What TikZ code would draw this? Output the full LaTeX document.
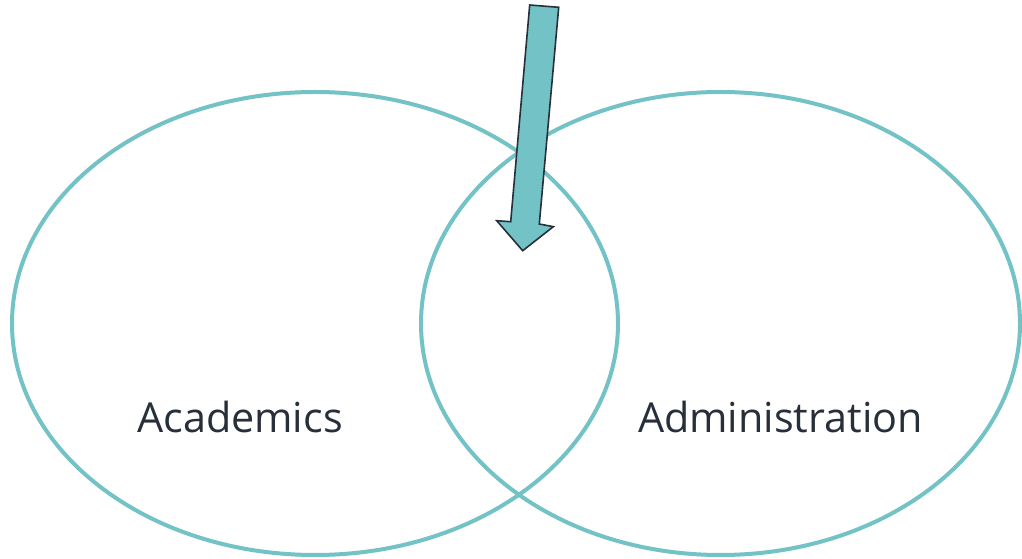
\documentclass[tikz,border=0pt]{standalone}
\usepackage{fontspec}
\setmainfont[Ligatures=NoCommon]{Open Sans}
\definecolor{teal1}{HTML}{72C2C6}
\definecolor{ink}{HTML}{262F3A}
\begin{document}
\begin{tikzpicture}[x=0.75pt,y=-0.75pt,
  ring/.style={draw=teal1,line width=3pt},
  lbl/.style={text=ink,font=\fontsize{31}{38}\selectfont,anchor=base,inner sep=0pt}]
\useasboundingbox (0,0) rectangle (1022,559);
\draw[ring] (315,323.5) ellipse [x radius=303, y radius=231.5];
\draw[ring] (720.5,323.5) ellipse [x radius=299.5, y radius=231.5];
\node[lbl] (acad) at (240,433) {Academics};
\node[lbl] (admin) at (780.5,433) {Administration};
\draw[fill=teal1,draw=ink,line width=1.2pt,line join=miter]
  (529.7,5) -- (558.7,7.3) -- (539.3,224) -- (553.3,226.7) -- (522.7,250.7)
  -- (496.7,220.7) -- (510.7,221.7) -- cycle;
\end{tikzpicture}
\end{document}
